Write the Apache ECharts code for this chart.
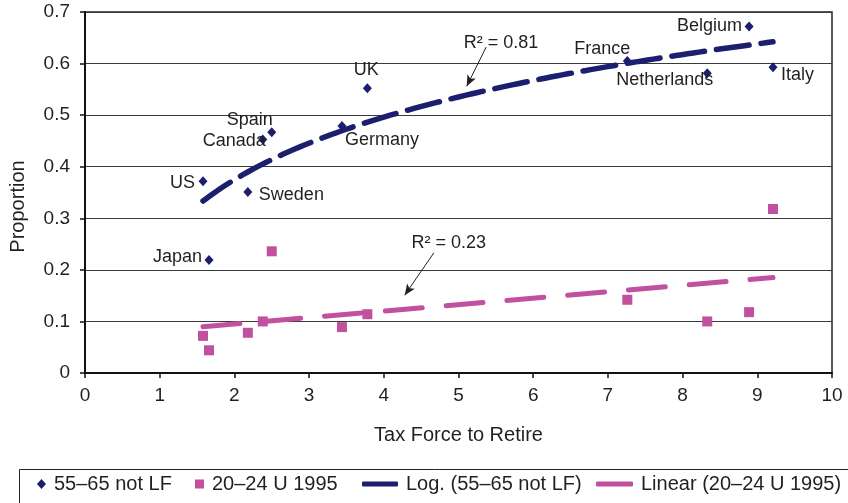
<!DOCTYPE html>
<html>
<head>
<meta charset="utf-8">
<script src="https://cdn.jsdelivr.net/npm/echarts@6/dist/echarts.min.js"></script>
<style>
  html, body { margin: 0; padding: 0; background: #fff; }
  #chart { width: 848px; height: 503px; }
</style>
</head>
<body>
<div id="chart"></div>
<script>
// Countries and their tax force to retire
const countries = ['US', 'Japan', 'Sweden', 'Canada', 'Spain', 'Germany', 'UK', 'France', 'Netherlands', 'Belgium', 'Italy'];
const taxForce = [1.58, 1.66, 2.18, 2.38, 2.50, 3.44, 3.78, 7.26, 8.33, 8.89, 9.21];
// Share of men aged 55–65 not in the labour force
const notInLabourForce = [0.372, 0.219, 0.351, 0.453, 0.467, 0.479, 0.552, 0.605, 0.581, 0.672, 0.593];
// Unemployment rate of 20–24 year olds, 1995
const youthUnemployment = [0.072, 0.044, 0.078, 0.100, 0.236, 0.089, 0.114, 0.142, 0.100, 0.118, 0.318];
// Goodness of fit of the two trend lines
const rSquaredLog = 0.81;
const rSquaredLinear = 0.23;

const seriesNames = ['55–65 not LF', '20–24 U 1995', 'Log. (55–65 not LF)', 'Linear (20–24 U 1995)'];

const NAVY = '#1c1e6e';
const MAGENTA = '#c1509e';
const INK = '#231f20';
const FONT = '"Liberation Sans", Arial, Helvetica, sans-serif';

// Where each country name sits relative to its marker
const labelPlacement = {
  US:          { position: 'left',  offset: [-3.5, 2] },
  Japan:       { position: 'left',  offset: [-2.5, -3] },
  Sweden:      { position: 'right', offset: [6.5, 3] },
  Canada:      { position: 'left',  offset: [7.5, 2] },
  Spain:       { position: 'left',  offset: [5.5, -12] },
  Germany:     { position: 'right', offset: [-1.5, 14] },
  UK:          { position: 'top',   offset: [-1, 0], distance: 4 },
  France:      { position: 'left',  offset: [7.5, -12] },
  Netherlands: { position: 'left',  offset: [10.5, 7] },
  Belgium:     { position: 'left',  offset: [-2.5, 0] },
  Italy:       { position: 'right', offset: [3.5, 8] }
};

// Least-squares fits used for the trend lines
function linearFit(xs, ys) {
  const n = xs.length;
  const mx = xs.reduce((s, v) => s + v, 0) / n;
  const my = ys.reduce((s, v) => s + v, 0) / n;
  let sxy = 0, sxx = 0;
  for (let i = 0; i < n; i++) {
    sxy += (xs[i] - mx) * (ys[i] - my);
    sxx += (xs[i] - mx) * (xs[i] - mx);
  }
  const b = sxy / sxx;
  return { a: my - b * mx, b: b };
}
const logFit = linearFit(taxForce.map(Math.log), notInLabourForce);
const linFit = linearFit(taxForce, youthUnemployment);

const xMin = Math.min.apply(null, taxForce);
const xMax = Math.max.apply(null, taxForce);
const logCurve = [];
for (let i = 0; i <= 100; i++) {
  const x = xMin + (xMax - xMin) * i / 100;
  logCurve.push([x, logFit.a + logFit.b * Math.log(x)]);
}
const linLine = [xMin, xMax].map(x => [x, linFit.a + linFit.b * x]);

const diamondData = countries.map((c, i) => {
  const p = labelPlacement[c];
  return {
    name: c,
    value: [taxForce[i], notInLabourForce[i]],
    label: {
      show: true,
      formatter: c,
      position: p.position,
      distance: p.distance !== undefined ? p.distance : 0,
      offset: p.offset
    }
  };
});
const squareData = countries.map((c, i) => [taxForce[i], youthUnemployment[i]]);

function annotation(text, at, arrowFrom, arrowTo) {
  return {
    markPoint: {
      silent: true,
      symbol: 'circle',
      symbolSize: 0,
      label: { show: true, position: 'inside', formatter: text, color: INK, fontSize: 18, fontFamily: FONT },
      data: [{ coord: at }]
    },
    markLine: {
      silent: true,
      symbol: ['none', 'arrow'],
      symbolSize: [7, 11],
      animation: false,
      lineStyle: { color: INK, width: 1, type: 'solid', opacity: 1 },
      label: { show: false },
      emphasis: { disabled: true },
      data: [[{ coord: arrowFrom }, { coord: arrowTo }]]
    }
  };
}

const chart = echarts.init(document.getElementById('chart'), null, { renderer: 'canvas' });

const legendBase = {
  orient: 'horizontal',
  top: 474,
  padding: 0,
  selectedMode: false,
  textStyle: { color: INK, fontSize: 20, fontFamily: FONT, padding: [0, 0, 0, 3] }
};

chart.setOption({
  animation: false,
  backgroundColor: '#fff',
  textStyle: { fontFamily: FONT },
  grid: {
    left: 85, right: 16, top: 12, bottom: 130,
    show: true, borderColor: '#222', borderWidth: 1.5, backgroundColor: 'transparent'
  },
  xAxis: {
    type: 'value', min: 0, max: 10, interval: 1,
    name: 'Tax Force to Retire', nameLocation: 'middle', nameGap: 52,
    nameTextStyle: { color: INK, fontSize: 20, fontFamily: FONT },
    axisLine: { show: true, onZero: false, lineStyle: { color: '#111', width: 2 } },
    axisTick: { show: true, length: 5, lineStyle: { color: '#111', width: 1.5 } },
    axisLabel: { color: INK, fontSize: 19, margin: 13, fontFamily: FONT },
    splitLine: { show: false }
  },
  yAxis: {
    type: 'value', min: 0, max: 0.7, interval: 0.1,
    name: 'Proportion', nameLocation: 'middle', nameGap: 57, nameRotate: 90,
    nameTextStyle: { color: INK, fontSize: 20, fontFamily: FONT, padding: [0, 28, 0, 0] },
    axisLine: { show: true, onZero: false, lineStyle: { color: '#111', width: 2 } },
    axisTick: { show: true, length: 5, lineStyle: { color: '#111', width: 1.5 } },
    axisLabel: { color: INK, fontSize: 19, margin: 15, fontFamily: FONT },
    splitLine: { show: true, lineStyle: { color: '#3a3a3a', width: 1.2 } }
  },
  legend: [
    Object.assign({}, legendBase, { left: 37, itemWidth: 9, itemHeight: 10, data: [{ name: seriesNames[0], icon: 'diamond' }] }),
    Object.assign({}, legendBase, { left: 195, itemWidth: 9, itemHeight: 9, data: [{ name: seriesNames[1], icon: 'rect' }] }),
    Object.assign({}, legendBase, { left: 362, itemWidth: 36, itemHeight: 5, data: [{ name: seriesNames[2], icon: 'roundRect' }] }),
    Object.assign({}, legendBase, { left: 596, itemWidth: 37, itemHeight: 5, data: [{ name: seriesNames[3], icon: 'roundRect' }] })
  ],
  graphic: [{
    type: 'rect', left: 17, top: 467, silent: true,
    shape: { width: 900, height: 60 },
    style: { fill: 'none', stroke: '#222', lineWidth: 1 }
  }],
  series: [
    {
      name: seriesNames[0], type: 'scatter', symbol: 'diamond', symbolSize: [9, 10],
      itemStyle: { color: NAVY, opacity: 1 },
      label: { color: INK, fontSize: 18, fontFamily: FONT },
      emphasis: { disabled: true },
      data: diamondData, z: 3
    },
    {
      name: seriesNames[1], type: 'scatter', symbol: 'rect', symbolSize: 10,
      itemStyle: { color: MAGENTA, opacity: 1 },
      emphasis: { disabled: true },
      data: squareData, z: 3
    },
    Object.assign({
      name: seriesNames[2], type: 'line', showSymbol: false, symbol: 'none',
      itemStyle: { color: NAVY },
      lineStyle: { color: NAVY, width: 5.5, type: [33, 12], cap: 'round' },
      emphasis: { disabled: true },
      data: logCurve, z: 4
    }, annotation('R² = 0.81', [5.57, 0.640], [5.37, 0.632], [5.11, 0.556])),
    Object.assign({
      name: seriesNames[3], type: 'line', showSymbol: false, symbol: 'none',
      itemStyle: { color: MAGENTA },
      lineStyle: { color: MAGENTA, width: 5, type: [37, 24], cap: 'round' },
      emphasis: { disabled: true },
      data: linLine, z: 4
    }, annotation('R² = 0.23', [4.87, 0.252], [4.67, 0.233], [4.28, 0.151]))
  ]
});
</script>
</body>
</html>
